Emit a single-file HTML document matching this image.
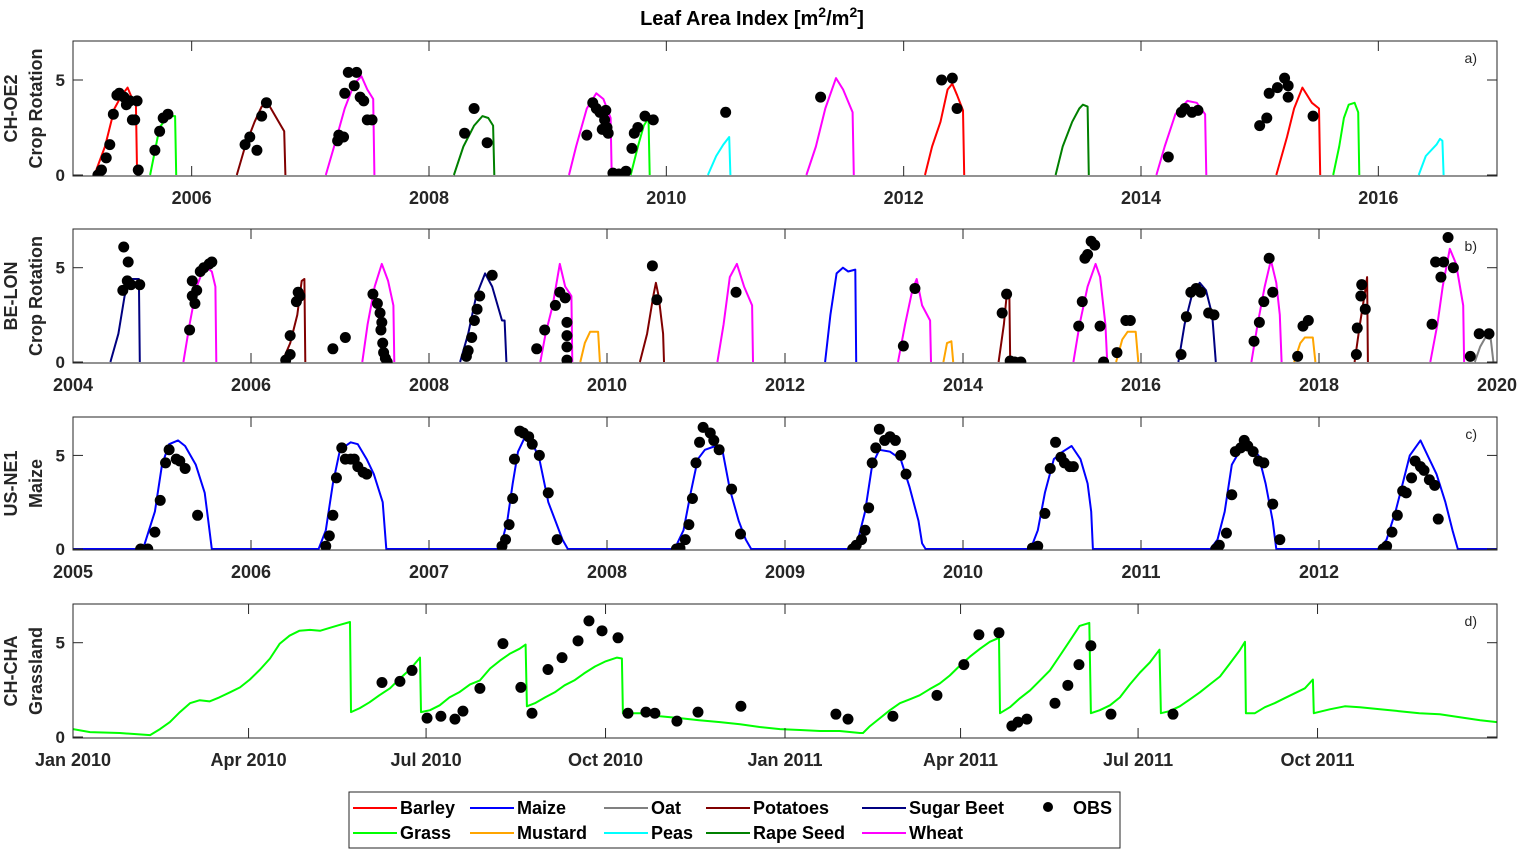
<!DOCTYPE html>
<html><head><meta charset="utf-8"><style>
html,body{margin:0;padding:0;background:#fff}
svg{display:block;font-family:"Liberation Sans",Arial,sans-serif;font-weight:bold}
</style></head><body>
<svg id="chart" width="1521" height="849" viewBox="0 0 1521 849" xmlns="http://www.w3.org/2000/svg">
<text x="752" y="25" font-size="20" text-anchor="middle">Leaf Area Index [m<tspan dy="-8" font-size="14">2</tspan><tspan dy="8">/m</tspan><tspan dy="-8" font-size="14">2</tspan><tspan dy="8">]</tspan></text>
</svg>
<script>
// ---------- DATA ----------
const cropColors = {Barley:'#ff0000',Maize:'#0000ff',Oat:'#808080',Potatoes:'#800000','Sugar Beet':'#000080',Grass:'#00ff00',Mustard:'#ffa500',Peas:'#00ffff','Rape Seed':'#008000',Wheat:'#ff00ff'};

// Panel a (CH-OE2): crop per segment + segment points [year, LAI]
const aCrops = ['Barley','Grass','Potatoes','Wheat','Rape Seed','Wheat','Grass','Peas','Wheat','Barley','Rape Seed','Wheat','Barley','Grass','Peas'];
const aSegments = [
 [[2005.18,0],[2005.27,1.5],[2005.35,3.5],[2005.41,4.2],[2005.46,4.6],[2005.50,4.0],[2005.53,3.8],[2005.54,0]],
 [[2005.65,0],[2005.73,2.5],[2005.80,3.1],[2005.86,3.1],[2005.87,0]],
 [[2006.38,0],[2006.45,1.5],[2006.53,2.8],[2006.59,3.6],[2006.64,3.8],[2006.78,2.3],[2006.79,0]],
 [[2007.13,0],[2007.20,1.5],[2007.29,3.5],[2007.37,4.8],[2007.43,5.2],[2007.48,4.5],[2007.53,4.0],[2007.54,0]],
 [[2008.21,0],[2008.29,1.5],[2008.38,2.6],[2008.45,3.1],[2008.50,3.0],[2008.54,2.6],[2008.55,0]],
 [[2009.18,0],[2009.24,1.5],[2009.33,3.5],[2009.41,4.3],[2009.47,4.0],[2009.53,3.0],[2009.54,0]],
 [[2009.70,0],[2009.76,1.5],[2009.81,2.6],[2009.85,3.0],[2009.86,0]],
 [[2010.35,0],[2010.42,1.0],[2010.48,1.6],[2010.53,2.0],[2010.54,0]],
 [[2011.18,0],[2011.26,1.5],[2011.34,3.5],[2011.43,5.1],[2011.49,4.5],[2011.57,3.3],[2011.58,0]],
 [[2012.18,0],[2012.24,1.5],[2012.31,2.8],[2012.37,4.5],[2012.41,4.8],[2012.45,4.2],[2012.50,3.4],[2012.51,0]],
 [[2013.28,0],[2013.34,1.5],[2013.42,2.8],[2013.48,3.5],[2013.51,3.7],[2013.55,3.6],[2013.56,0]],
 [[2014.13,0],[2014.20,1.5],[2014.29,3.2],[2014.39,3.9],[2014.47,3.8],[2014.54,3.2],[2014.55,0]],
 [[2015.14,0],[2015.23,2.0],[2015.29,3.5],[2015.36,4.6],[2015.44,3.8],[2015.50,3.5],[2015.51,0]],
 [[2015.62,0],[2015.67,1.5],[2015.71,3.0],[2015.75,3.7],[2015.80,3.8],[2015.83,3.3],[2015.84,0]],
 [[2016.34,0],[2016.40,1.0],[2016.49,1.6],[2016.52,1.9],[2016.54,1.8],[2016.55,0]]
];
const aObsX = [2005.21,2005.24,2005.28,2005.31,2005.34,2005.37,2005.39,2005.43,2005.45,2005.48,2005.50,2005.52,2005.54,2005.55,2005.69,2005.73,2005.76,2005.80,2006.45,2006.49,2006.55,2006.59,2006.63,2007.23,2007.24,2007.28,2007.29,2007.32,2007.37,2007.39,2007.42,2007.45,2007.48,2007.52,2008.30,2008.38,2008.49,2009.33,2009.38,2009.41,2009.44,2009.46,2009.48,2009.49,2009.50,2009.51,2009.55,2009.60,2009.66,2009.71,2009.73,2009.76,2009.82,2009.89,2010.50,2011.30,2012.32,2012.41,2012.45,2014.23,2014.34,2014.37,2014.43,2014.48,2015.00,2015.06,2015.08,2015.15,2015.21,2015.24,2015.24,2015.45];
const aObsY = [0,0.26,0.9,1.6,3.2,4.2,4.3,4.1,3.7,3.9,2.9,2.9,3.9,0.26,1.3,2.3,3.0,3.2,1.6,2.0,1.3,3.1,3.8,1.8,2.1,2.0,4.3,5.4,4.7,5.4,4.1,3.9,2.9,2.9,2.2,3.5,1.7,2.1,3.8,3.5,3.3,2.4,2.9,3.4,2.5,2.2,0.1,0.05,0.2,1.4,2.2,2.5,3.1,2.9,3.3,4.1,5.0,5.1,3.5,0.95,3.3,3.5,3.3,3.4,2.6,3.0,4.3,4.6,5.1,4.7,4.1,3.1];
const aTicks = [2006,2008,2010,2012,2014,2016];

// Panel b (BE-LON)
const bCrops = ['Sugar Beet','Wheat','Potatoes','Wheat','Sugar Beet','Wheat','Mustard','Potatoes','Wheat','Maize','Wheat','Mustard','Potatoes','Wheat','Mustard','Sugar Beet','Wheat','Mustard','Potatoes','Wheat','Oat'];
const bSegments = [
 [[2004.42,0],[2004.51,1.5],[2004.58,3.5],[2004.65,4.4],[2004.74,4.4],[2004.75,0]],
 [[2005.24,0],[2005.31,2],[2005.39,4.0],[2005.48,5.1],[2005.56,4.8],[2005.60,4],[2005.61,0]],
 [[2006.35,0],[2006.44,1],[2006.52,2.5],[2006.57,4.3],[2006.60,4.4],[2006.61,0]],
 [[2007.25,0],[2007.31,2],[2007.39,4],[2007.47,5.2],[2007.54,4.3],[2007.60,3],[2007.61,0]],
 [[2008.35,0],[2008.44,1.5],[2008.53,3.5],[2008.63,4.7],[2008.71,4],[2008.82,2.2],[2008.85,2.2],[2008.87,0]],
 [[2009.25,0],[2009.31,1.5],[2009.39,3],[2009.47,5.2],[2009.53,4],[2009.60,3.5],[2009.61,0]],
 [[2009.70,0],[2009.75,1],[2009.81,1.6],[2009.90,1.6],[2009.92,0]],
 [[2010.37,0],[2010.45,1.5],[2010.52,3.5],[2010.55,4.2],[2010.58,3.5],[2010.63,1.5],[2010.64,0]],
 [[2011.24,0],[2011.31,2],[2011.38,4.5],[2011.46,5.2],[2011.54,4],[2011.63,3],[2011.64,0]],
 [[2012.45,0],[2012.51,2.5],[2012.58,4.7],[2012.65,5.0],[2012.71,4.8],[2012.79,4.9],[2012.80,0]],
 [[2013.27,0],[2013.35,2],[2013.43,3.8],[2013.48,4.4],[2013.54,3],[2013.63,2.2],[2013.64,0]],
 [[2013.78,0],[2013.82,1],[2013.87,1.1],[2013.89,0]],
 [[2014.40,0],[2014.46,2],[2014.49,3.5],[2014.52,3.8],[2014.53,0]],
 [[2015.24,0],[2015.31,2],[2015.40,4],[2015.49,5.2],[2015.54,4.5],[2015.60,2],[2015.62,0]],
 [[2015.72,0],[2015.79,1.2],[2015.85,1.6],[2015.94,1.6],[2015.97,0]],
 [[2016.42,0],[2016.49,2],[2016.57,3.5],[2016.66,4.2],[2016.73,3.8],[2016.80,2.5],[2016.84,0]],
 [[2017.24,0],[2017.31,2],[2017.39,4],[2017.46,5.4],[2017.52,4.2],[2017.56,2.5],[2017.58,0]],
 [[2017.72,0],[2017.79,1],[2017.84,1.3],[2017.93,1.3],[2017.96,0]],
 [[2018.40,0],[2018.46,2],[2018.52,3.8],[2018.54,4.5],[2018.55,0]],
 [[2019.25,0],[2019.33,2],[2019.39,4],[2019.47,6.0],[2019.54,5.2],[2019.62,3],[2019.63,0]],
 [[2019.75,0],[2019.81,0.8],[2019.87,1.3],[2019.93,1.2],[2019.96,0]]
];
const bObsX = [2004.57,2004.62,2004.56,2004.61,2004.65,2004.75,2005.31,2005.34,2005.34,2005.37,2005.39,2005.43,2005.47,2005.53,2005.56,2006.39,2006.44,2006.44,2006.51,2006.53,2006.55,2006.92,2007.06,2007.37,2007.42,2007.45,2007.47,2007.46,2007.48,2007.49,2007.51,2007.53,2008.42,2008.44,2008.48,2008.51,2008.54,2008.57,2008.71,2009.21,2009.30,2009.42,2009.47,2009.53,2009.55,2009.55,2009.55,2009.55,2010.51,2010.56,2011.45,2013.33,2013.46,2014.44,2014.49,2014.53,2014.58,2014.65,2015.30,2015.34,2015.37,2015.40,2015.44,2015.48,2015.54,2015.58,2015.73,2015.83,2015.88,2016.45,2016.51,2016.56,2016.62,2016.67,2016.76,2016.82,2017.27,2017.33,2017.38,2017.44,2017.48,2017.76,2017.82,2017.88,2018.42,2018.43,2018.47,2018.48,2018.52,2019.27,2019.31,2019.37,2019.40,2019.45,2019.51,2019.70,2019.80,2019.91];
const bObsY = [6.1,5.3,3.8,4.3,4.1,4.1,1.7,4.3,3.5,3.1,3.8,4.8,5.0,5.2,5.3,0.1,0.4,1.4,3.2,3.7,3.5,0.7,1.3,3.6,3.1,2.6,2.1,1.7,1.0,0.5,0.2,0,0.3,0.6,1.3,2.2,2.8,3.5,4.6,0.7,1.7,3.0,3.7,3.4,2.1,1.4,0.8,0.1,5.1,3.3,3.7,0.85,3.9,2.6,3.6,0.05,0,0,1.9,3.2,5.5,5.7,6.4,6.2,1.9,0,0.5,2.2,2.2,0.4,2.4,3.7,3.9,3.7,2.6,2.5,1.1,2.1,3.2,5.5,3.7,0.3,1.9,2.2,0.4,1.8,3.5,4.1,2.8,2.0,5.3,4.5,5.3,6.6,5.0,0.3,1.5,1.5];
const bTicks = [2004,2006,2008,2010,2012,2014,2016,2018,2020];

// Panel c (US-NE1, maize) : [year offset from 2005, LAI]
const cCropYears = [2005,2006,2007,2008,2009,2010,2011,2012];
const cMaize = [[0,0],
 [0.35,0],[0.40,0.2],[0.46,2],[0.50,4.5],[0.54,5.6],[0.59,5.8],[0.63,5.5],[0.69,4.5],[0.74,3],[0.76,1.5],[0.78,0],
 [1.38,0],[1.42,1],[1.46,3.5],[1.50,5.3],[1.56,5.7],[1.60,5.6],[1.65,4.8],[1.69,4],[1.74,2.5],[1.76,0],
 [2.40,0],[2.44,1.5],[2.47,3.5],[2.50,5.2],[2.54,6.0],[2.58,5.7],[2.62,4.8],[2.67,2.5],[2.71,1.5],[2.75,0.5],[2.78,0],
 [3.38,0],[3.43,1],[3.47,3],[3.51,4.8],[3.55,5.3],[3.61,5.5],[3.65,5.2],[3.69,3.2],[3.74,1.5],[3.78,0.5],[3.81,0],
 [4.37,0],[4.41,0.5],[4.45,2],[4.49,4.5],[4.53,5.3],[4.59,5.2],[4.65,4.8],[4.70,3.3],[4.75,1.5],[4.77,0.3],[4.79,0],
 [5.38,0],[5.42,1],[5.46,3],[5.51,4.8],[5.56,5.2],[5.61,5.5],[5.66,4.8],[5.70,3.5],[5.72,2.0],[5.73,0],
 [6.39,0],[6.43,0.5],[6.47,2],[6.51,4.5],[6.57,5.5],[6.61,5.5],[6.66,5.0],[6.70,3.5],[6.74,1.5],[6.76,0],
 [7.34,0],[7.38,0.5],[7.43,2],[7.47,3.5],[7.51,5],[7.57,5.8],[7.61,5],[7.66,4],[7.71,2.5],[7.75,1],[7.78,0],
 [8,0]];
const cObsX = [0.38,0.42,0.46,0.49,0.52,0.54,0.58,0.60,0.63,0.70,1.42,1.44,1.46,1.48,1.51,1.53,1.56,1.58,1.60,1.63,1.65,2.41,2.43,2.45,2.47,2.48,2.51,2.53,2.56,2.58,2.62,2.67,2.72,3.39,3.41,3.44,3.46,3.48,3.50,3.52,3.54,3.58,3.60,3.63,3.70,3.75,4.38,4.40,4.43,4.45,4.47,4.49,4.51,4.53,4.56,4.59,4.62,4.65,4.68,5.39,5.42,5.46,5.49,5.52,5.55,5.57,5.60,5.62,6.42,6.44,6.48,6.51,6.53,6.56,6.58,6.60,6.63,6.66,6.69,6.74,6.78,7.36,7.38,7.41,7.44,7.47,7.49,7.52,7.54,7.57,7.59,7.62,7.65,7.67];
const cObsY = [0,0,0.9,2.6,4.6,5.3,4.8,4.7,4.3,1.8,0.15,0.7,1.8,3.8,5.4,4.8,4.8,4.8,4.4,4.1,4.0,0.15,0.5,1.3,2.7,4.8,6.3,6.2,6.0,5.6,5.0,3.0,0.5,0,0.05,0.5,1.3,2.7,4.6,5.7,6.5,6.2,5.8,5.3,3.2,0.8,0,0.2,0.5,1.0,2.2,4.6,5.4,6.4,5.8,6.0,5.8,5.0,4.0,0.05,0.15,1.9,4.3,5.7,4.9,4.6,4.4,4.4,0,0.2,0.85,2.9,5.2,5.4,5.8,5.5,5.2,4.7,4.6,2.4,0.5,0,0.15,0.9,1.8,3.1,3.0,3.8,4.7,4.4,4.2,3.7,3.4,1.6];
const cTicks = [2005,2006,2007,2008,2009,2010,2011,2012];

// Panel d (CH-CHA grassland): days since 1 Jan 2010
const dGrassDay = [0,8.7,24,39.5,44.6,49.7,54.8,60,65,70,75,80.5,85.6,90.7,95.9,101,106,111,116,121.5,126.6,131.7,136.9,142,142.5,147,152,157,162.5,167.6,172.7,177.9,178.4,183,188,193,198,203.5,208.6,213.8,218.9,224,229,232,232.7,236.8,242,247,252,257,262,267.6,272.7,278.9,281.4,281.9,290.6,300.9,311,321,331.7,342,352,362.4,372.7,383,393,403.4,405,408.6,413.7,418.8,423.9,429,434,439,444.4,449.5,454.7,459.8,465,470,474.7,475.2,480.3,485.4,490.6,495.7,500.8,506,511,516,521,521.8,526.4,531.6,536.7,541.8,547,552,557,557.7,562,567.4,572.6,577.7,582.8,588,593,598,600.8,601.3,605.9,611,616,621,626.4,631.5,635.6,636.1,644.3,652,659.7,670,680,690.2,700.7,711,721.4,730];
const dGrassLAI = [0.42,0.26,0.21,0.1,0.42,0.79,1.32,1.79,1.95,1.89,2.1,2.37,2.63,3.05,3.58,4.16,4.95,5.37,5.63,5.68,5.63,5.79,5.95,6.1,1.32,1.53,1.84,2.21,2.58,3.1,3.58,4.21,1.32,1.42,1.68,2.1,2.37,2.79,3.0,3.63,4.05,4.42,4.68,4.9,1.63,1.79,2.1,2.37,2.74,3.0,3.37,3.74,4.0,4.21,4.16,1.26,1.26,1.1,1.0,0.89,0.79,0.68,0.53,0.42,0.37,0.32,0.32,0.21,0.21,0.58,1.0,1.42,1.79,2.0,2.21,2.53,2.84,3.26,3.79,4.26,4.68,5.05,5.26,1.26,1.58,2.05,2.47,3.0,3.53,4.32,5.1,5.89,6.05,1.26,1.42,1.68,2.1,2.79,3.42,3.95,4.63,1.26,1.37,1.63,2.0,2.37,2.79,3.21,3.89,4.58,5.05,1.26,1.26,1.58,1.79,2.05,2.32,2.58,3.05,1.26,1.47,1.63,1.58,1.47,1.37,1.26,1.21,1.05,0.89,0.79];
const dObsDay = [158.4,167.6,173.8,181.5,188.6,195.8,199.9,208.6,220.4,229.6,235.3,243.5,250.7,258.9,264.5,271.2,279.4,284.5,293.7,298.3,309.6,320.4,342.4,391.1,397.3,420.3,442.9,456.7,464.4,474.7,481.3,484.4,489,503.4,510,515.7,521.8,532.1,563.9];
const dObsLAI = [2.89,2.95,3.53,1.0,1.1,0.95,1.37,2.58,4.95,2.63,1.26,3.58,4.21,5.1,6.16,5.63,5.26,1.26,1.32,1.26,0.84,1.32,1.63,1.21,0.95,1.1,2.21,3.84,5.42,5.53,0.58,0.79,0.95,1.79,2.74,3.84,4.84,1.21,1.21];
const dTickDays = [0,90,181,273,365,455,546,638];
const dTickLabels = ['Jan 2010','Apr 2010','Jul 2010','Oct 2010','Jan 2011','Apr 2011','Jul 2011','Oct 2011'];
const yTicks = [0,5];

// ---------- DRAW ----------
const NS='http://www.w3.org/2000/svg';
const svg=document.getElementById('chart');
function mk(tag,attrs,parent){const e=document.createElementNS(NS,tag);for(const k in attrs)e.setAttribute(k,attrs[k]);(parent||svg).appendChild(e);return e;}
const L=73,R=1497;
function panel(id,top,bottom,xmin,xmax,ylab1,ylab2,letter){
  const g=mk('g',{});
  
  
  const sx=v=>L+(v-xmin)/(xmax-xmin)*(R-L);
  const sy=v=>bottom-1-v*19*(bottom-top)/135;
  const clip=mk('clipPath',{id:'clip'+id},g);
  mk('rect',{x:L,y:top,width:R-L,height:bottom-top},clip);
  const plot=mk('g',{'clip-path':'url(#clip'+id+')'},g);
  
  
  const frame=mk('rect',{x:L,y:top,width:R-L,height:bottom-top,fill:'none',stroke:'#262626','stroke-width':1},g);
  
  
  yTicks.forEach(t=>{
    const y=sy(t);
    mk('line',{x1:L,x2:L+10,y1:y,y2:y,stroke:'#262626'},g);
    mk('line',{x1:R,x2:R-10,y1:y,y2:y,stroke:'#262626'},g);
    const tx=mk('text',{x:L-8,y:y+6,'font-size':17,'text-anchor':'end',fill:'#262626'},g);
    
    
    tx.textContent=t;
  });
  const yl=mk('text',{transform:`translate(17,${(top+bottom)/2}) rotate(-90)`,'font-size':18,'text-anchor':'middle',fill:'#262626'},g);
  
  
  yl.textContent=ylab1;
  const yl2=mk('text',{transform:`translate(42,${(top+bottom)/2}) rotate(-90)`,'font-size':18,'text-anchor':'middle',fill:'#262626'},g);
  
  
  yl2.textContent=ylab2;
  const pl=mk('text',{x:1477,y:top+22,'font-size':14,'font-weight':'normal','text-anchor':'end',fill:'#262626'},g);
  
  
  pl.textContent=letter;
  return {g,plot,sx,sy,xtick(v,label){
    const x=sx(v);
    mk('line',{x1:x,x2:x,y1:bottom,y2:bottom-10,stroke:'#262626'},g);
    mk('line',{x1:x,x2:x,y1:top,y2:top+10,stroke:'#262626'},g);
    const tx=mk('text',{x:x,y:bottom+28,'font-size':18,'text-anchor':'middle',fill:'#262626'},g);
    
    
    tx.textContent=label;
  }};
}
function line(p,pts,color,name){
  const d=pts.map((q,i)=>(i?'L':'M')+p.sx(q[0]).toFixed(1)+','+p.sy(q[1]).toFixed(1)).join('');
  const e=mk('path',{d,fill:'none',stroke:color,'stroke-width':2,'stroke-linejoin':'round'},p.plot);
  
  
}
function dots(p,xs,ys,name){
  xs.forEach((x,i)=>{
    const c=mk('circle',{cx:p.sx(x),cy:p.sy(ys[i]),r:5.5,fill:'#000'},p.plot);
    
    
  });
}
// a
const pa=panel('a',41,176,2005,2017,'CH-OE2','Crop Rotation','a)');
aTicks.forEach(t=>pa.xtick(t,t));
aSegments.forEach((s,i)=>line(pa,s,cropColors[aCrops[i]],'series-'+aCrops[i].toLowerCase().replace(' ','-')));
dots(pa,aObsX,aObsY,'obs-point');
// b
const pb=panel('b',229,363,2004,2020,'BE-LON','Crop Rotation','b)');
bTicks.forEach(t=>pb.xtick(t,t));
bSegments.forEach((s,i)=>line(pb,s,cropColors[bCrops[i]],'series-'+bCrops[i].toLowerCase().replace(' ','-')));
dots(pb,bObsX,bObsY,'obs-point');
// c
const pc=panel('c',417,550,0,8,'US-NE1','Maize','c)');
cTicks.forEach(t=>pc.xtick(t-cCropYears[0],t));
line(pc,cMaize,cropColors.Maize,'series-maize');
dots(pc,cObsX,cObsY,'obs-point');
// d
const pd=panel('d',604,738,0,730,'CH-CHA','Grassland','d)');
dTickDays.forEach((t,i)=>pd.xtick(t,dTickLabels[i]));
line(pd,dGrassDay.map((d,i)=>[d,dGrassLAI[i]]),cropColors.Grass,'series-grass');
dots(pd,dObsDay,dObsLAI,'obs-point');

// legend
const lg=mk('g',{});


mk('rect',{x:349,y:792,width:771,height:56,fill:'#fff',stroke:'#262626'},lg);
const legItems=[['Barley',353,808],['Maize',470,808],['Oat',604,808],['Potatoes',706,808],['Sugar Beet',862,808],
 ['Grass',353,833],['Mustard',470,833],['Peas',604,833],['Rape Seed',706,833],['Wheat',862,833]];
legItems.forEach(it=>{
  const e=mk('g',{},lg);
  
  
  mk('line',{x1:it[1],x2:it[1]+44,y1:it[2],y2:it[2],stroke:cropColors[it[0]],'stroke-width':2},e);
  const t=mk('text',{x:it[1]+47,y:it[2]+6,'font-size':18,fill:'#000'},e);
  t.textContent=it[0];
});
const ob=mk('g',{},lg);


mk('circle',{cx:1048,cy:807,r:5,fill:'#000'},ob);
const ot=mk('text',{x:1073,y:814,'font-size':18,fill:'#000'},ob);
ot.textContent='OBS';
</script>
</body></html>
